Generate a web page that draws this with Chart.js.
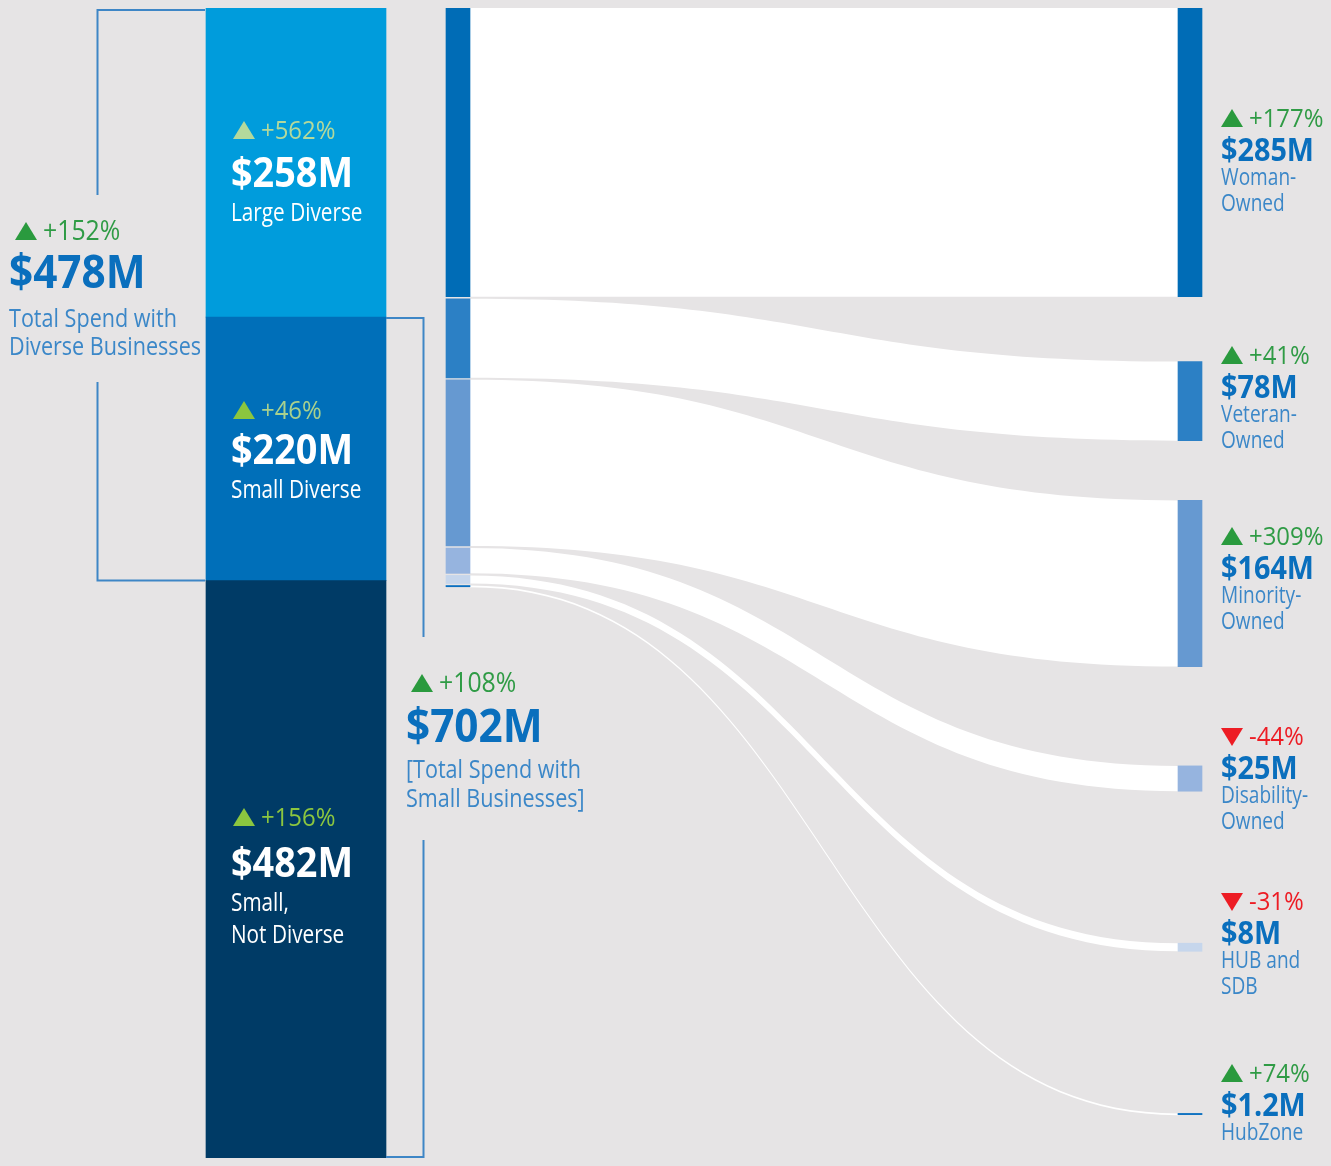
<!DOCTYPE html>
<html>
<head>
<meta charset="utf-8">
<script src="https://cdn.jsdelivr.net/npm/chart.js@4.4.1/dist/chart.umd.min.js"></script>
<style>
html, body { margin: 0; padding: 0; background: #e6e4e5; }
canvas { display: block; }
</style>
</head>
<body>
<canvas id="plot" width="1331" height="1166"></canvas>
<script>
// spend in $M
const sourceNames = [['Large Diverse'], ['Small Diverse'], ['Small,', 'Not Diverse']]
const sourceValues = [258, 220, 482]
const sourceChange = [562, 46, 156]

const targetNames = [['Woman-', 'Owned'], ['Veteran-', 'Owned'], ['Minority-', 'Owned'],
    ['Disability-', 'Owned'], ['HUB and', 'SDB'], ['HubZone']]
const targetValues = [285, 78, 164, 25, 8, 1.2]
const targetChange = [177, 41, 309, -44, -31, 74]

const totalNames = [['Total Spend with', 'Diverse Businesses'], ['[Total Spend with', 'Small Businesses]']]
const totalValues = [478, 702]
const totalChange = [152, 108]

// layout
const colX = { source: 296, split: 458, target: 1190 }
const sourceColors = ['#009cdc', '#006fb9', '#003b66']
const targetColors = ['#006cb6', '#2c80c5', '#6699d1', '#96b4df', '#c6d6ec', '#0a6fc0']
const splitGap = 2
const targetGap = [0, 64, 59, 98, 150, 160]
const sourceLabelY = [139, 419, 826]
const sourceValueGap = [48, 45, 51]
const targetLabelY = [127, 364, 545, 745, 910, 1082]

const FONT = "'Open Sans', 'DejaVu Sans', sans-serif"

let sourceRanges = []
let acc = 0
sourceValues.forEach(v => { sourceRanges.push([acc, acc + v]); acc += v })
const sourceMax = acc

let splitRanges = []
acc = 0
targetValues.forEach(v => { splitRanges.push([acc, acc + v]); acc += v + splitGap })

let targetRanges = []
acc = 0
targetValues.forEach((v, i) => { acc += targetGap[i]; targetRanges.push([acc, acc + v]); acc += v })

function money(v) { return '$' + v + 'M' }
function pct(c) { return (c > 0 ? '+' : '') + c + '%' }

// condensed look: Open Sans squeezed horizontally
function txt(ctx, s, x, y, font, sx) {
    ctx.save()
    ctx.translate(x, y)
    ctx.scale(sx, 1)
    ctx.font = font
    ctx.fillText(s, 0, 0)
    ctx.restore()
}

function triangle(ctx, x, y, up, color) {
    ctx.fillStyle = color
    ctx.beginPath()
    if (up) {
        ctx.moveTo(x, y); ctx.lineTo(x + 22, y); ctx.lineTo(x + 11, y - 18)
    } else {
        ctx.moveTo(x, y - 17); ctx.lineTo(x + 22, y - 17); ctx.lineTo(x + 11, y + 1)
    }
    ctx.closePath()
    ctx.fill()
}

function drawBlock(ctx, b) {
    const up = b.change > 0
    triangle(ctx, b.triX, b.y, up, up ? b.triColor : '#ed1c24')
    ctx.textBaseline = 'alphabetic'
    ctx.textAlign = 'left'
    ctx.fillStyle = up ? b.pctColor : '#ed1c24'
    txt(ctx, pct(b.change), b.triX + 28, b.y, b.pctSize + 'px ' + FONT, 0.92)
    ctx.fillStyle = b.valueColor
    let y = b.y + b.valueGap
    txt(ctx, money(b.value), b.x, y, 'bold ' + b.valueSize + 'px ' + FONT, 0.9)
    ctx.fillStyle = b.descColor
    y += b.descGap
    b.lines.forEach(line => {
        txt(ctx, line, b.x, y, b.descSize + 'px ' + FONT, 0.83)
        y += b.lineHeight
    })
}

const flowPlugin = {
    id: 'flows',
    beforeDatasetsDraw(chart) {
        const ctx = chart.ctx
        const split = chart.getDatasetMeta(1).data
        const target = chart.getDatasetMeta(2).data
        ctx.save()
        ctx.fillStyle = '#ffffff'
        split.forEach((a, i) => {
            const b = target[i]
            const x0 = a.x + a.width / 2
            const x1 = b.x - b.width / 2
            const xm = (x0 + x1) / 2
            const t0 = Math.min(a.y, a.base), t1 = Math.min(b.y, b.base)
            const b0 = Math.max(a.y, a.base, t0 + 1.8), b1 = Math.max(b.y, b.base, t1 + 1.8)
            ctx.beginPath()
            ctx.moveTo(x0, t0)
            ctx.bezierCurveTo(xm, t0, xm, t1, x1, t1)
            ctx.lineTo(x1, b1)
            ctx.bezierCurveTo(xm, b1, xm, b0, x0, b0)
            ctx.closePath()
            ctx.fill()
        })
        ctx.restore()
    }
}

const labelPlugin = {
    id: 'labels',
    afterDatasetsDraw(chart) {
        const ctx = chart.ctx
        const y = chart.scales.y
        const src = chart.getDatasetMeta(0).data
        const srcLeft = src[0].x - src[0].width / 2
        const srcRight = src[0].x + src[0].width / 2
        ctx.save()

        // brackets
        ctx.strokeStyle = '#3e86c6'
        ctx.lineWidth = 2
        const top = y.getPixelForValue(0) + 2
        const divEnd = y.getPixelForValue(sourceRanges[1][1])
        ctx.beginPath()
        ctx.moveTo(srcLeft - 1, top); ctx.lineTo(97.5, top); ctx.lineTo(97.5, 195)
        ctx.moveTo(97.5, 382); ctx.lineTo(97.5, divEnd); ctx.lineTo(srcLeft - 1, divEnd)
        const smallTop = y.getPixelForValue(sourceRanges[1][0]) + 1
        const smallEnd = y.getPixelForValue(sourceMax) - 1
        ctx.moveTo(srcRight, smallTop); ctx.lineTo(423.5, smallTop); ctx.lineTo(423.5, 637)
        ctx.moveTo(423.5, 840); ctx.lineTo(423.5, smallEnd); ctx.lineTo(srcRight, smallEnd)
        ctx.stroke()

        const inBarPct = [['#b3d99c', '#b3d99c'], ['#8cc63f', '#a8d18e'], ['#8cc63f', '#8cc63f']]
        sourceValues.forEach((v, i) => {
            drawBlock(ctx, {
                x: srcLeft + 25, triX: srcLeft + 27, y: sourceLabelY[i],
                change: sourceChange[i], value: v, lines: sourceNames[i],
                triColor: inBarPct[i][0], pctColor: inBarPct[i][1],
                valueColor: '#ffffff', descColor: '#ffffff',
                pctSize: 26, valueSize: 42, descSize: 25,
                valueGap: sourceValueGap[i], descGap: 34, lineHeight: 32
            })
        })

        const outside = { triColor: '#2a9a3e', pctColor: '#2f9b45', valueColor: '#0a6fbd', descColor: '#3b87c8' }
        drawBlock(ctx, Object.assign({}, outside, {
            x: 9, triX: 15, y: 240, change: totalChange[0], value: totalValues[0], lines: totalNames[0],
            pctSize: 27, valueSize: 47, descSize: 26, valueGap: 48, descGap: 39, lineHeight: 28
        }))
        drawBlock(ctx, Object.assign({}, outside, {
            x: 406, triX: 411, y: 692, change: totalChange[1], value: totalValues[1], lines: totalNames[1],
            pctSize: 27, valueSize: 47, descSize: 26, valueGap: 50, descGap: 36, lineHeight: 29
        }))

        const tgt = chart.getDatasetMeta(2).data
        targetValues.forEach((v, i) => {
            const x = tgt[i].x + tgt[i].width / 2 + 19
            drawBlock(ctx, Object.assign({}, outside, {
                x: x, triX: x, y: targetLabelY[i], change: targetChange[i], value: v, lines: targetNames[i],
                pctSize: 26, valueSize: 32, descSize: 23, valueGap: 34, descGap: 24, lineHeight: 26
            }))
        })
        ctx.restore()
    }
}

const config = {
    type: 'bar',
    data: {
        datasets: [{
            label: 'Source',
            data: sourceRanges.map(r => ({ x: colX.source, y: r })),
            backgroundColor: sourceColors,
            barThickness: 180,
            grouped: false,
            yAxisID: 'y'
        }, {
            label: 'Split',
            data: splitRanges.map(r => ({ x: colX.split, y: r })),
            backgroundColor: targetColors,
            barThickness: 24,
            grouped: false,
            yAxisID: 'y2'
        }, {
            label: 'Target',
            data: targetRanges.map(r => ({ x: colX.target, y: r })),
            backgroundColor: targetColors,
            barThickness: 24,
            grouped: false,
            yAxisID: 'y2'
        }]
    },
    options: {
        responsive: false,
        animation: false,
        events: [],
        layout: { padding: { top: 8, bottom: 8, left: 0, right: 0 } },
        plugins: {
            legend: { display: false },
            tooltip: { enabled: false }
        },
        scales: {
            x: { type: 'linear', min: 0, max: 1331, offset: false, display: false },
            y: { type: 'linear', min: 0, max: sourceMax, reverse: true, stacked: false, display: false },
            y2: { type: 'linear', min: 0, max: 1135, reverse: true, stacked: false, display: false }
        }
    },
    plugins: [flowPlugin, labelPlugin]
}

const chart = new Chart(document.getElementById('plot'), config)
</script>
</body>
</html>
